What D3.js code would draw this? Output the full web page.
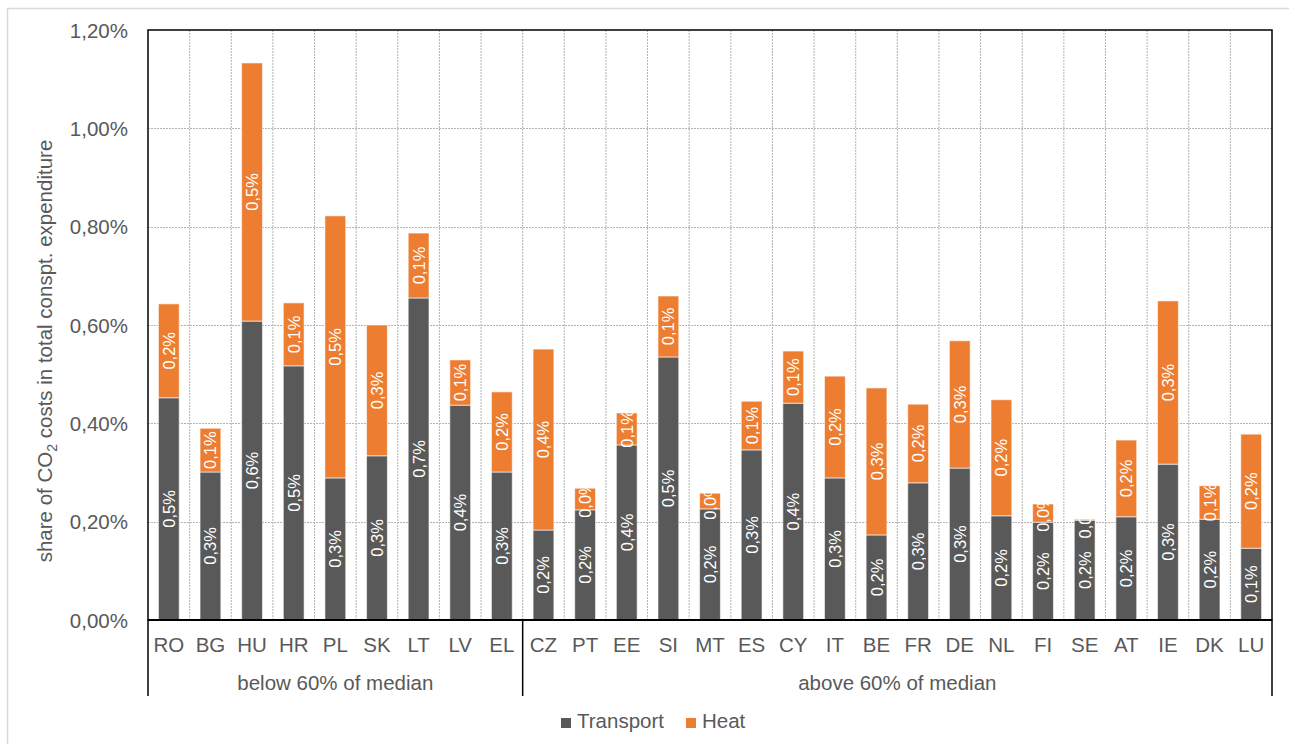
<!DOCTYPE html>
<html>
<head>
<meta charset="utf-8">
<script src="https://cdn.jsdelivr.net/npm/d3@7"></script>
<style>
  html, body { margin: 0; padding: 0; background: #fff; }
  svg { display: block; font-family: "Liberation Sans", Arial, sans-serif; }
</style>
</head>
<body>
<svg id="chart" width="1289" height="744"></svg>
<script>
// Countries, ordered within each income group
const categories = ["RO","BG","HU","HR","PL","SK","LT","LV","EL",
                    "CZ","PT","EE","SI","MT","ES","CY","IT","BE","FR","DE","NL","FI","SE","AT","IE","DK","LU"];
// Share of CO2 costs in total consumption expenditure (%)
const transport = [0.452,0.301,0.608,0.517,0.289,0.334,0.655,0.437,0.301,
                   0.183,0.224,0.356,0.535,0.226,0.346,0.441,0.289,0.173,0.279,0.309,0.212,0.199,0.203,0.210,0.317,0.205,0.146];
const heat      = [0.191,0.089,0.525,0.128,0.533,0.266,0.132,0.092,0.163,
                   0.368,0.044,0.065,0.124,0.032,0.099,0.106,0.207,0.299,0.160,0.259,0.236,0.037,0.002,0.156,0.332,0.068,0.232];
const groupNames = ["below 60% of median", "above 60% of median"];
const groupSizes = [9, 18];
const yTicks = [0, 0.2, 0.4, 0.6, 0.8, 1.0, 1.2];
const seriesNames = ["Transport", "Heat"];
const seriesColors = ["#595959", "#ED7D31"];

const svg = d3.select("#chart");
const plotLeft = 148, plotRight = 1272, plotTop = 30, plotBottom = 620;
const textGray = "#595959";

// outer chart frame
svg.append("rect").attr("x", 7.5).attr("y", 8.5).attr("width", 1300).attr("height", 760)
  .attr("fill", "none").attr("stroke", "#d9d9d9").attr("stroke-width", 1.5);

const x = d3.scaleBand().domain(categories).range([plotLeft, plotRight]).paddingInner(0.5).paddingOuter(0.25);
const y = d3.scaleLinear().domain([0, 1.2]).range([plotBottom, plotTop]);
const step = x.step();

const fmtTick = v => d3.format(".2f")(v).replace(".", ",") + "%";
const fmtLabel = v => d3.format(".1f")(v).replace(".", ",") + "%";

// horizontal gridlines
svg.append("g").selectAll("line").data(yTicks.slice(1, -1)).join("line")
  .attr("x1", plotLeft).attr("x2", plotRight)
  .attr("y1", d => Math.round(y(d)) + 0.5).attr("y2", d => Math.round(y(d)) + 0.5)
  .attr("stroke", "#b4b4b4").attr("stroke-width", 1).attr("stroke-dasharray", "2,1");

// vertical gridlines between categories
svg.append("g").selectAll("line").data(categories.slice(0, -1)).join("line")
  .attr("x1", d => x(d) - step * 0.25 + step)
  .attr("x2", d => x(d) - step * 0.25 + step)
  .attr("y1", plotTop).attr("y2", plotBottom)
  .attr("stroke", "#b4b4b4").attr("stroke-width", 1).attr("stroke-dasharray", "2,1");

// stacked data
const rows = categories.map((c, i) => ({ c, i, t: transport[i], h: heat[i] }));
const segs = [];
rows.forEach(r => {
  segs.push({ c: r.c, i: r.i, s: 0, y0: 0, y1: r.t, v: r.t, total: r.t + r.h });
  segs.push({ c: r.c, i: r.i, s: 1, y0: r.t, y1: r.t + r.h, v: r.h, total: r.t + r.h });
});

// clip paths so labels stay within each stacked column
const defs = svg.append("defs");
rows.forEach(r => {
  defs.append("clipPath").attr("id", "clip-" + r.c)
    .append("rect")
    .attr("x", x(r.c) - 4).attr("width", x.bandwidth() + 8)
    .attr("y", y(r.t + r.h)).attr("height", y(0) - y(r.t + r.h));
});

// bars
svg.append("g").selectAll("rect").data(segs).join("rect")
  .attr("x", d => x(d.c)).attr("width", x.bandwidth())
  .attr("y", d => y(d.y1)).attr("height", d => y(d.y0) - y(d.y1))
  .attr("fill", d => seriesColors[d.s])
  .attr("stroke", "#ffffff").attr("stroke-opacity", 0.6).attr("stroke-width", 1);

// value labels, rotated, white
svg.append("g").selectAll("g").data(segs).join("g")
  .attr("clip-path", d => `url(#clip-${d.c})`)
  .append("text")
  .attr("transform", d => `translate(${x(d.c) + x.bandwidth() / 2},${(y(d.y0) + y(d.y1)) / 2}) rotate(-90)`)
  .attr("text-anchor", "middle").attr("dominant-baseline", "central")
  .attr("fill", "#fff").attr("font-size", 16.5)
  .text(d => fmtLabel(d.v));

// plot frame
svg.append("rect").attr("x", plotLeft).attr("y", plotTop).attr("width", plotRight - plotLeft).attr("height", plotBottom - plotTop)
  .attr("fill", "none").attr("stroke", "#000").attr("stroke-width", 1.5);
svg.append("line").attr("x1", plotLeft).attr("x2", plotRight).attr("y1", plotBottom).attr("y2", plotBottom)
  .attr("stroke", "#000").attr("stroke-width", 2.2);

// y tick labels
svg.append("g").selectAll("text").data(yTicks).join("text")
  .attr("x", 128).attr("y", d => y(d)).attr("text-anchor", "end").attr("dominant-baseline", "central")
  .attr("fill", textGray).attr("font-size", 20.5).text(fmtTick);

// category labels
svg.append("g").selectAll("text").data(categories).join("text")
  .attr("x", d => x(d) + x.bandwidth() / 2).attr("y", 652)
  .attr("text-anchor", "middle").attr("fill", textGray).attr("font-size", 20.5).text(d => d);

// group separators and labels
let acc = 0;
const bounds = [0];
groupSizes.forEach(n => { acc += n; bounds.push(acc); });
const boundX = k => k === categories.length ? plotRight : x(categories[k]) - step * 0.25;
svg.append("g").selectAll("line").data(bounds).join("line")
  .attr("x1", k => boundX(k)).attr("x2", k => boundX(k))
  .attr("y1", plotBottom).attr("y2", 696).attr("stroke", "#000").attr("stroke-width", 1.5);
svg.append("g").selectAll("text").data(groupNames).join("text")
  .attr("x", (d, i) => (boundX(bounds[i]) + boundX(bounds[i + 1])) / 2).attr("y", 690)
  .attr("text-anchor", "middle").attr("fill", textGray).attr("font-size", 20.5).text(d => d);

// y axis title with subscript
const yt = svg.append("text")
  .attr("transform", `translate(52,351) rotate(-90)`)
  .attr("text-anchor", "middle").attr("fill", textGray).attr("font-size", 20.5);
yt.append("tspan").text("share of CO");
yt.append("tspan").attr("dy", 5).attr("font-size", 14).text("2");
yt.append("tspan").attr("dy", -5).text(" costs in total conspt. expenditure");

// legend
const legendX = [561, 686];
const lg = svg.append("g").selectAll("g").data(seriesNames).join("g")
  .attr("transform", (d, i) => `translate(${legendX[i]},718)`);
lg.append("rect").attr("width", 10).attr("height", 10).attr("fill", (d, i) => seriesColors[i]);
lg.append("text").attr("x", 16).attr("y", 10).attr("fill", textGray).attr("font-size", 20.5).text(d => d);
</script>
</body>
</html>
